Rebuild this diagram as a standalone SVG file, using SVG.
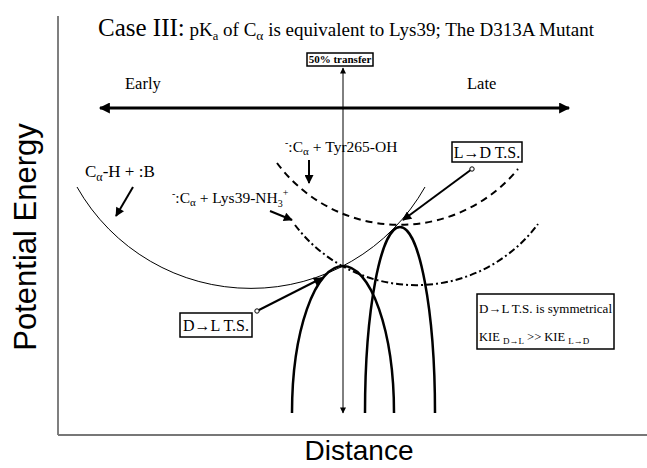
<svg xmlns="http://www.w3.org/2000/svg" width="647" height="468" viewBox="0 0 647 468">
<defs>
<style>
.serif{font-family:"Liberation Serif","Times New Roman",serif;fill:#000}
.sans{font-family:"Liberation Sans",Arial,sans-serif;fill:#000}
.box{fill:#fff;stroke:#000;stroke-width:1.5}
.thin{fill:none;stroke:#000;stroke-width:1}
.thick{fill:none;stroke:#000;stroke-width:2.5}
.dash{fill:none;stroke:#000;stroke-width:2;stroke-dasharray:7,5}
.dashdot{fill:none;stroke:#000;stroke-width:2;stroke-dasharray:7,3,2,3}
.ptr{fill:none;stroke:#000;stroke-width:2}
</style>
<marker id="ah" viewBox="0 0 10 10" refX="9" refY="5" markerWidth="10" markerHeight="9" markerUnits="userSpaceOnUse" orient="auto"><path d="M0,0 L10,5 L0,10 z" fill="#000"/></marker>
<marker id="ahs" viewBox="0 0 10 10" refX="9" refY="5" markerWidth="7" markerHeight="6" markerUnits="userSpaceOnUse" orient="auto"><path d="M0,0 L10,5 L0,10 z" fill="#000"/></marker>
<marker id="ahb" viewBox="0 0 10 10" refX="9" refY="5" markerWidth="13" markerHeight="11" markerUnits="userSpaceOnUse" orient="auto-start-reverse"><path d="M0,0 L10,5 L0,10 z" fill="#000"/></marker>
<marker id="dot" viewBox="0 0 6 6" refX="3" refY="3" markerWidth="6" markerHeight="6" markerUnits="userSpaceOnUse"><circle cx="3" cy="3" r="2.2" fill="#fff" stroke="#000" stroke-width="1"/></marker>
</defs>
<rect width="647" height="468" fill="#fff"/>

<g id="axes">
<line x1="58" y1="16" x2="58" y2="435" stroke="#555" stroke-width="1.5"/>
<line x1="58" y1="435" x2="647" y2="435" stroke="#777" stroke-width="2"/>
<text class="sans" font-size="31" transform="translate(36,237) rotate(-90)" text-anchor="middle">Potential Energy</text>
<text class="sans" font-size="28" x="359" y="460" text-anchor="middle">Distance</text>
</g>

<g id="title">
<text class="serif" x="98" y="36"><tspan font-size="25">Case III:</tspan><tspan font-size="19"> pK</tspan><tspan font-size="12.5" dy="4">a</tspan><tspan font-size="19" dy="-4"> of C</tspan><tspan font-size="13.5" dy="4">α</tspan><tspan font-size="19" dy="-4"> is equivalent to Lys39; The D313A Mutant</tspan></text>
</g>

<g id="curves">
<path class="thin" d="M77,187 A200,200 0 0 0 425,187"/>
<path class="dash" d="M277,163 A153,153 0 0 0 518,169"/>
<path class="dashdot" d="M295,225 A152,152 0 0 0 538,224"/>
<path class="thick" d="M292,413 A51,147 0 0 1 394,413"/>
<path class="thick" d="M365,413 A35,186 0 0 1 435,413"/>
</g>

<g id="connectors">
<line x1="100" y1="108" x2="569" y2="108" stroke="#000" stroke-width="3" marker-start="url(#ahb)" marker-end="url(#ahb)"/>
<line x1="343" y1="240" x2="343" y2="68" stroke="#000" stroke-width="1" marker-end="url(#ahs)"/>
<line x1="343" y1="240" x2="343" y2="413" stroke="#000" stroke-width="1" marker-end="url(#ahs)"/>
<line class="ptr" x1="133" y1="187" x2="116" y2="216" marker-end="url(#ah)"/>
<line class="ptr" x1="309" y1="160" x2="309" y2="183" marker-end="url(#ah)"/>
<line class="ptr" x1="270" y1="211" x2="292" y2="220" marker-end="url(#ah)"/>
<line class="ptr" x1="472" y1="169" x2="403" y2="220" marker-start="url(#dot)" marker-end="url(#ah)"/>
<line class="ptr" x1="257" y1="311" x2="322" y2="278" marker-start="url(#dot)" marker-end="url(#ah)"/>
</g>

<g id="transfer-label">
<rect class="box" x="307" y="53" width="66" height="13" stroke-width="1"/>
<text class="serif" font-size="11" font-weight="bold" x="340" y="63" text-anchor="middle">50% transfer</text>
</g>

<g id="early"><text class="serif" font-size="16.5" x="125" y="89">Early</text></g>
<g id="late"><text class="serif" font-size="16.5" x="467" y="89">Late</text></g>

<g id="reactant-label">
<text class="serif" font-size="17" x="85" y="177">C<tspan font-size="12" dy="4">α</tspan><tspan dy="-4">-H + :B</tspan></text>
</g>

<g id="tyr-label">
<text class="serif" font-size="15.5" x="285" y="152"><tspan font-size="10" dy="-6">-</tspan><tspan dy="6">:C</tspan><tspan font-size="11" dy="3">α</tspan><tspan dy="-3"> + Tyr265-OH</tspan></text>
</g>

<g id="lys-label">
<text class="serif" font-size="15.5" x="172" y="203"><tspan font-size="10" dy="-6">-</tspan><tspan dy="6">:C</tspan><tspan font-size="11" dy="3">α</tspan><tspan dy="-3"> + Lys39-NH</tspan><tspan font-size="10" dy="4">3</tspan><tspan font-size="10" dy="-11">+</tspan></text>
</g>

<g id="ld-ts">
<rect class="box" x="452" y="142" width="70" height="20"/>
<text class="serif" font-size="16" x="487" y="158" text-anchor="middle">L→D T.S.</text>
</g>

<g id="dl-ts">
<rect class="box" x="180" y="313" width="72" height="24"/>
<text class="serif" font-size="16" x="216" y="331" text-anchor="middle">D→L T.S.</text>
</g>

<g id="info-box">
<rect class="box" x="477" y="294" width="137" height="55" stroke-width="2"/>
<text class="serif" font-size="12.5" x="479" y="313" textLength="133" lengthAdjust="spacingAndGlyphs">D→L T.S. is symmetrical</text>
<text class="serif" font-size="12.5" x="479" y="341">KIE <tspan font-size="9" dy="3">D→L</tspan><tspan dy="-3"> &gt;&gt; KIE </tspan><tspan font-size="9" dy="3">L→D</tspan></text>
</g>
</svg>
